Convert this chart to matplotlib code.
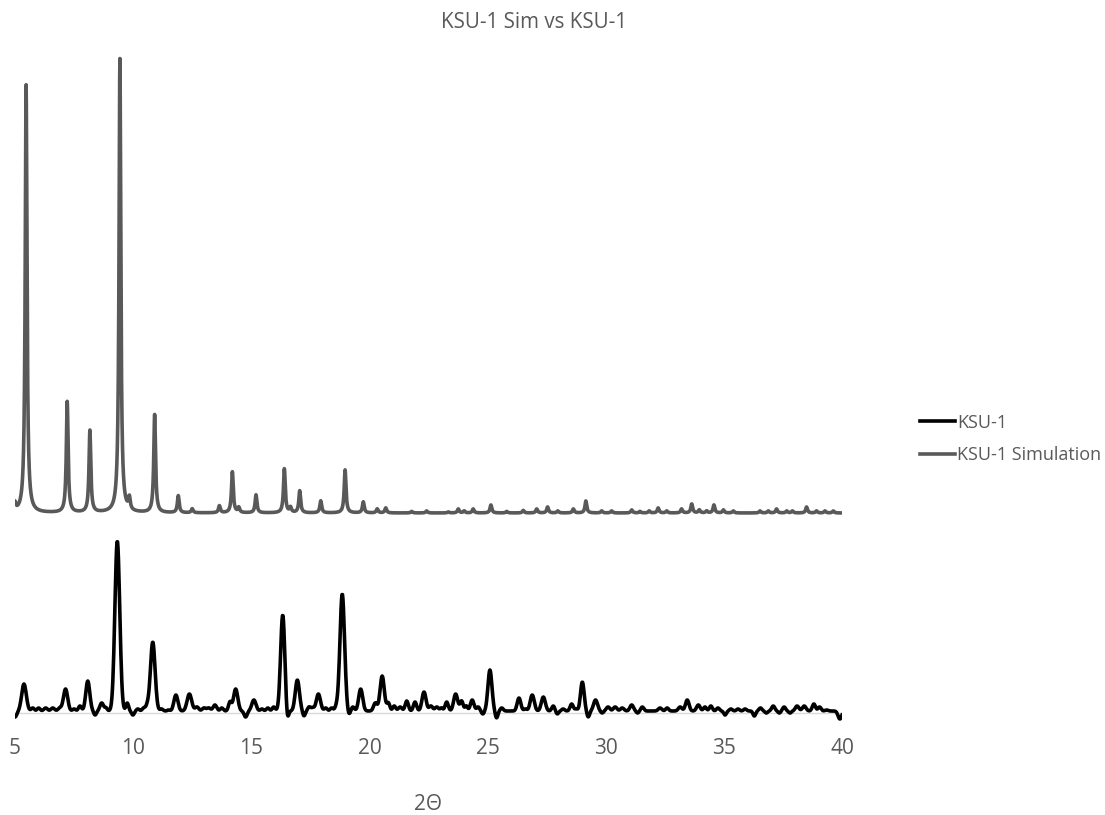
import numpy as np
import matplotlib
matplotlib.use("Agg")
import matplotlib.pyplot as plt

plt.rcParams['font.family'] = ['Open Sans', 'DejaVu Sans']

# Simulated pattern: peak positions (2theta) and heights (a.u.)
sim_pos = [5.00, 5.47, 7.21, 8.17, 9.44, 9.84, 10.91, 11.91, 12.50, 13.65, 14.20, 14.47,
           15.20, 16.40, 16.66, 17.05, 17.94, 18.97, 19.74, 20.33, 20.69, 21.79, 22.42,
           23.34, 23.76, 24.01, 24.39, 25.14, 25.81, 26.51, 27.08, 27.54, 27.97, 28.63,
           29.16, 29.83, 30.25, 31.10, 31.45, 31.84, 32.22, 32.58, 33.21, 33.64, 33.96,
           34.27, 34.58, 34.98, 35.40, 36.53, 36.88, 37.23, 37.66, 37.90, 38.50, 38.92,
           39.28, 39.63]
sim_height = [8, 428, 111, 82, 454, 12, 98, 17, 4, 7, 41, 5,
              18, 44, 5, 22, 12, 43, 11, 4, 5, 1.5, 2,
              1, 4, 2, 4, 8, 1.5, 2.5, 4, 6, 2, 4,
              12, 2, 2, 3, 1.5, 2, 5, 2, 4, 9, 3,
              2, 8, 3, 2, 2, 2, 4, 2, 2, 6, 2,
              2, 2]
sim_fwhm = 0.09
sim_offset = 200

# Measured KSU-1 pattern: peak positions, heights (negative = dips) and widths
ksu_pos = [5.00, 5.38, 5.75, 6.00, 6.30, 6.60, 6.90, 7.14, 7.50, 7.75, 8.08, 8.39, 8.67, 8.85,
           9.33, 9.75, 9.99, 10.20, 10.45, 10.60, 10.83, 11.20, 11.50, 11.81, 12.38, 12.70,
           13.00, 13.20, 13.46, 13.75, 14.10, 14.34, 14.76, 15.11, 15.45, 15.70, 15.95,
           16.33, 16.52, 16.95, 17.23, 17.45, 17.60, 17.84, 18.15, 18.40, 18.60, 18.85,
           19.13, 19.30, 19.63, 20.25, 20.54, 20.80, 21.05, 21.30, 21.58, 21.93, 22.31,
           22.60, 22.85, 23.05, 23.27, 23.65, 23.90, 24.10, 24.35, 24.60, 24.80, 25.10,
           25.38, 25.60, 26.33, 26.60, 26.89, 27.36, 27.78, 27.95, 28.20, 28.56, 28.75,
           29.01, 29.26, 29.57, 29.85, 30.10, 30.40, 30.70, 31.10, 31.35, 31.55, 32.30,
           32.60, 33.15, 33.45, 33.92, 34.20, 34.45, 34.75, 35.05, 35.30, 35.60, 35.90,
           36.29, 36.55, 36.80, 37.09, 37.35, 37.55, 37.80, 38.10, 38.40, 38.81, 39.05,
           39.35, 39.91]
ksu_height = [-6, 27, 3, 3, 3, 3, 3, 22, 2, 5, 30, -4, 8, 3,
              170, 8, -4, 2, 3, 5, 69, 2, 1, 16, 17, 4,
              3, 3, 6, 3, 9, 22, -6, 11, 2, 3, 4,
              96, -11, 31, -5, 4, 3, 17, 3, 3, 4, 117,
              -4, 4, 22, 8, 35, 8, 5, 4, 10, 9, 19,
              5, 4, 3, 9, 17, 10, 5, 11, 4, -3, 41,
              -7, 3, 13, 2, 16, 14, 5, -3, 2, 7, 2,
              29, -6, 11, -2, 4, 4, 3, 6, -2, 4, 3,
              3, 4, 11, 6, 4, 5, 3, -4, 2, 2, 2,
              -5, 3, -2, 5, -2, 4, -2, 5, 5, 7, 4,
              1, -8]
ksu_fwhm = [0.18, 0.23, 0.15, 0.15, 0.18, 0.18, 0.18, 0.21, 0.15, 0.15, 0.2, 0.13, 0.18, 0.13,
            0.24, 0.13, 0.13, 0.15, 0.15, 0.15, 0.23, 0.15, 0.13, 0.2, 0.23, 0.18,
            0.18, 0.18, 0.18, 0.15, 0.15, 0.21, 0.15, 0.21, 0.15, 0.15, 0.15,
            0.21, 0.13, 0.21, 0.13, 0.15, 0.15, 0.21, 0.15, 0.15, 0.15, 0.23,
            0.13, 0.15, 0.2, 0.18, 0.21, 0.15, 0.15, 0.18, 0.16, 0.16, 0.2,
            0.18, 0.18, 0.13, 0.16, 0.2, 0.16, 0.13, 0.18, 0.15, 0.13, 0.2,
            0.13, 0.15, 0.18, 0.15, 0.2, 0.2, 0.15, 0.13, 0.15, 0.16, 0.13,
            0.18, 0.13, 0.2, 0.13, 0.18, 0.18, 0.18, 0.18, 0.13, 0.15, 0.18,
            0.15, 0.18, 0.18, 0.18, 0.15, 0.15, 0.15, 0.13, 0.15, 0.15, 0.15,
            0.13, 0.15, 0.13, 0.16, 0.13, 0.15, 0.13, 0.18, 0.18, 0.16, 0.15,
            0.15, 0.18]
ksu_background = 2

x_ticks = [5, 10, 15, 20, 25, 30, 35, 40]

# build profiles from the peak lists
x_sim = np.arange(5, 40.001, 0.01)
y_sim = np.full_like(x_sim, sim_offset, dtype=float)
for p, h in zip(sim_pos, sim_height):
    y_sim += h * (sim_fwhm / 2) ** 2 / ((x_sim - p) ** 2 + (sim_fwhm / 2) ** 2)

x_ksu = np.arange(5, 40.001, 0.02)
y_ksu = np.full_like(x_ksu, ksu_background, dtype=float)
for p, h, w in zip(ksu_pos, ksu_height, ksu_fwhm):
    s = w / 2.3548
    y_ksu += h * np.exp(-0.5 * ((x_ksu - p) / s) ** 2)

fig = plt.figure(figsize=(11.05, 8.15), dpi=100)
ax = fig.add_axes([15 / 1105, 1 - 723 / 815, 827 / 1105, 675 / 815])

ax.plot(x_ksu, y_ksu, color='black', linewidth=2.6, label='KSU-1', zorder=3)
ax.plot(x_sim, y_sim, color='#595959', linewidth=2.6, label='KSU-1 Simulation', zorder=2)
ax.axhline(0, color='#d9d9d9', linewidth=1, zorder=1)

ax.set_xlim(5, 40)
ax.set_ylim(-10, 665)
ax.set_xticks(x_ticks)
ax.set_yticks([])
ax.tick_params(axis='x', length=0, pad=11, labelsize=15, labelcolor='#595959')
for s in ax.spines.values():
    s.set_visible(False)

fig.text(534 / 1105, 1 - 22 / 815, 'KSU-1 Sim vs KSU-1', ha='center', va='center',
         fontsize=14.8, color='#595959')
fig.text(428 / 1105, 1 - 805 / 815, '2Θ', ha='center', va='center',
         fontsize=15, color='#595959')

leg = fig.legend(loc='center left', bbox_to_anchor=(904 / 1105, 1 - 439 / 815),
                 frameon=False, fontsize=13, handlelength=1.9, handletextpad=0.15,
                 labelspacing=0.8)
for t in leg.get_texts():
    t.set_color('#595959')

fig.savefig('out.png', dpi=100)
